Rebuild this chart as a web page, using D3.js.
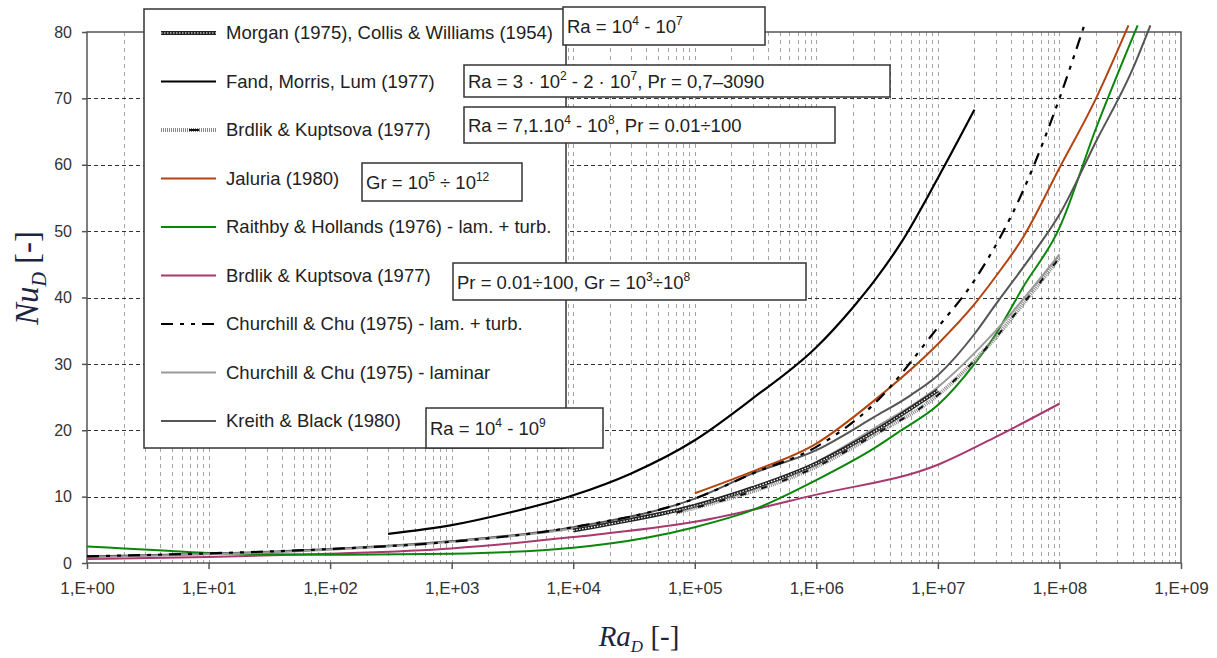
<!DOCTYPE html>
<html>
<head>
<meta charset="utf-8">
<script src="https://cdn.jsdelivr.net/npm/d3@7"></script>
<style>
  body { margin: 0; background: #fff; }
  svg { display: block; font-family: "Liberation Sans", Arial, sans-serif; }
</style>
</head>
<body>
<svg id="chart" width="1217" height="658"></svg>
<script>
// Nu_D vs Ra_D: [Ra, Nu]
var morgan = [[1e4,4.9],[3e4,6.5],[1e5,8.6],[3e5,11.3],[1e6,15],[3e6,19.8],[1e7,26]];
var fand = [[3e2,4.4],[1e3,5.7],[3e3,7.6],[1e4,10.2],[3e4,13.5],[1e5,18.5],[3e5,24.8],[1e6,32.5],[2e6,38.5],[3e6,42.5],[5e6,48.3],[1e7,58],[2e7,68.3]];
var brdlikHatch = [[7.1e4,7.6],[1e5,8.3],[3e5,10.8],[1e6,14.5],[3e6,19.3],[1e7,25.3],[2e7,30.5],[3e7,34],[5e7,39],[1e8,46]];
var jaluria = [[1e5,10.5],[3e5,13.8],[1e6,18],[3e6,24.5],[1e7,33],[2e7,39],[3e7,43.2],[5e7,49],[1e8,59.5],[2e8,70],[3.7e8,81]];
var raithby = [[1,2.5],[2,2.2],[5,1.8],[10,1.5],[100,1.25],[1e3,1.4],[1e4,2.3],[4e4,3.8],[1e5,5.4],[3e5,8],[1e6,12.5],[3e6,17.3],[5e6,20],[1e7,23.8],[2e7,30],[3e7,34.5],[5e7,41.5],[1e8,50.5],[2e8,65.5],[4.4e8,81]];
var brdlik = [[1,0.6],[10,0.9],[100,1.4],[1e3,2.2],[1e4,3.9],[1e5,6.2],[1e6,10.3],[1e7,14.8],[3e7,19],[1e8,24]];
var churchillTurb = [[1,1.0],[10,1.45],[100,2.1],[1e3,3.2],[1e4,5.4],[1e5,9.7],[3e5,13.5],[1e6,17.5],[3e6,24],[1e7,35.5],[2e7,42.6],[5e7,56],[1e8,70],[1.6e8,81]];
var churchillLam = [[1,0.85],[10,1.3],[100,2.0],[1e3,3.2],[1e4,5.2],[1e5,8.8],[1e6,15.2],[3e6,20.3],[1e7,26.5],[3e7,35],[1e8,46.5]];
var kreith = [[1,1.0],[10,1.4],[100,2.1],[1e3,3.3],[1e4,5.4],[1e5,9.7],[3e5,13.5],[1e6,17],[3e6,22],[6e6,25.3],[1e7,28.3],[2e7,34.5],[3e7,39],[6e7,46.5],[1e8,52.5],[2e8,63.5],[4e8,74.4],[5.6e8,81]];

var xTickLabels = ["1,E+00","1,E+01","1,E+02","1,E+03","1,E+04","1,E+05","1,E+06","1,E+07","1,E+08","1,E+09"];
var yTicks = [0,10,20,30,40,50,60,70,80];

var legendLabels = [
  "Morgan (1975), Collis & Williams (1954)",
  "Fand, Morris, Lum (1977)",
  "Brdlik & Kuptsova (1977)",
  "Jaluria (1980)",
  "Raithby & Hollands (1976) - lam. + turb.",
  "Brdlik & Kuptsova (1977)",
  "Churchill & Chu (1975) - lam. + turb.",
  "Churchill & Chu (1975) - laminar",
  "Kreith & Black (1980)"
];

// annotation boxes: pieces are [text, isSuperscript]
var notes = [
  {x:563, y:7,   w:202, h:38, parts:[["Ra = 10",0],["4",1],[" -  10",0],["7",1]]},
  {x:464, y:65,  w:426, h:32, parts:[["Ra = 3 · 10",0],["2",1],[" -  2 · 10",0],["7",1],[", Pr = 0,7–3090",0]]},
  {x:464, y:107, w:371, h:36, parts:[["Ra = 7,1.10",0],["4",1],[" -  10",0],["8",1],[", Pr = 0.01÷100",0]]},
  {x:362, y:163, w:160, h:38, parts:[["Gr = 10",0],["5",1],[" ÷ 10",0],["12",1]]},
  {x:453, y:263, w:353, h:37, parts:[["Pr = 0.01÷100, Gr = 10",0],["3",1],["÷10",0],["8",1]]},
  {x:426, y:408, w:177, h:40, parts:[["Ra = 10",0],["4",1],[" -   10",0],["9",1]]}
];

var chart = d3.select("#chart");
var plotLeft = 87, plotRight = 1181, plotTop = 32, plotBottom = 563;

var x = d3.scaleLog().domain([1, 1e9]).range([plotLeft, plotRight]);
var y = d3.scaleLinear().domain([0, 80]).range([plotBottom, plotTop]);

// vertical grid (light, every 1..9 of each decade)
var vgrid = [];
for (var e = 0; e < 9; e++) {
  for (var m = 1; m <= 9; m++) {
    var v = m * Math.pow(10, e);
    if (v > 1) vgrid.push(v);
  }
}
chart.append("g").selectAll("line")
  .data(vgrid)
  .enter().append("line")
  .attr("x1", function (d) { return Math.round(x(d)) + 0.5; })
  .attr("x2", function (d) { return Math.round(x(d)) + 0.5; })
  .attr("y1", plotTop).attr("y2", plotBottom)
  .attr("stroke", "#a3a3a3")
  .attr("stroke-width", 1)
  .attr("stroke-dasharray", "4,4");

// horizontal grid (dark dashed)
chart.append("g").selectAll("line")
  .data(yTicks.filter(function (d) { return d > 0 && d < 80; }))
  .enter().append("line")
  .attr("x1", plotLeft).attr("x2", plotRight)
  .attr("y1", function (d) { return Math.round(y(d)) + 0.5; })
  .attr("y2", function (d) { return Math.round(y(d)) + 0.5; })
  .attr("stroke", "#333")
  .attr("stroke-width", 1)
  .attr("stroke-dasharray", "4,3");

// plot frame
chart.append("rect")
  .attr("x", plotLeft).attr("y", plotTop)
  .attr("width", plotRight - plotLeft).attr("height", plotBottom - plotTop)
  .attr("fill", "none")
  .attr("stroke", "#555")
  .attr("stroke-width", 1.5);

// y axis
var yAxis = d3.axisLeft(y).tickValues(yTicks).tickSize(5).tickPadding(10);
var yAxisGroup = chart.append("g")
  .attr("transform", "translate(" + plotLeft + ",0)")
  .call(yAxis);
yAxisGroup.select(".domain").remove();
yAxisGroup.selectAll("line").attr("stroke", "#555").attr("stroke-width", 1.5);
yAxisGroup.selectAll("text")
  .style("font-family", "'Liberation Sans', Arial, sans-serif")
  .style("font-size", "16px")
  .attr("fill", "#333");

// x axis
var xAxis = d3.axisBottom(x)
  .tickValues(d3.range(10).map(function (i) { return Math.pow(10, i); }))
  .tickFormat(function (d, i) { return xTickLabels[i]; })
  .tickSize(6).tickPadding(13);
var xAxisGroup = chart.append("g")
  .attr("transform", "translate(0," + plotBottom + ")")
  .call(xAxis);
xAxisGroup.select(".domain").remove();
xAxisGroup.selectAll("line").attr("stroke", "#555").attr("stroke-width", 1.5);
xAxisGroup.selectAll("text")
  .style("font-family", "'Liberation Sans', Arial, sans-serif")
  .style("font-size", "17px")
  .attr("fill", "#333");

// axis titles
var yTitle = chart.append("text")
  .attr("transform", "translate(38,278) rotate(-90)")
  .attr("text-anchor", "middle")
  .style("font-family", "'Liberation Serif', 'DejaVu Serif', serif")
  .style("font-size", "33px")
  .attr("fill", "#1b2540");
yTitle.append("tspan").text("Nu").style("font-style", "italic");
yTitle.append("tspan").text("D").style("font-style", "italic").style("font-size", "20px").attr("dy", 8);
yTitle.append("tspan").text(" [-]").attr("dy", -8);

var xTitle = chart.append("text")
  .attr("x", 639).attr("y", 646)
  .attr("text-anchor", "middle")
  .style("font-family", "'Liberation Serif', 'DejaVu Serif', serif")
  .style("font-size", "29px")
  .attr("fill", "#1b2540");
xTitle.append("tspan").text("Ra").style("font-style", "italic");
xTitle.append("tspan").text("D").style("font-style", "italic").style("font-size", "17px").attr("dy", 6);
xTitle.append("tspan").text(" [-]").attr("dy", -6);

// series styling
var line = d3.line()
  .x(function (d) { return x(d[0]); })
  .y(function (d) { return y(d[1]); })
  .curve(d3.curveMonotoneX);

function drawStyled(g, d, style) {
  if (style.type === "morgan") {
    g.append("path").attr("d", d).attr("fill", "none")
      .attr("stroke", "#222").attr("stroke-width", 4);
    g.append("path").attr("d", d).attr("fill", "none")
      .attr("stroke", "#fff").attr("stroke-width", 1.2).attr("stroke-dasharray", "1.5,1.5");
  } else if (style.type === "brdlik") {
    g.append("path").attr("d", d).attr("fill", "none")
      .attr("stroke", "#888").attr("stroke-width", 4).attr("stroke-dasharray", "1,1");
    g.append("path").attr("d", d).attr("fill", "none")
      .attr("stroke", "#111").attr("stroke-width", 2).attr("stroke-dasharray", style.marks || "6,16");
  } else {
    g.append("path").attr("d", d).attr("fill", "none")
      .attr("stroke", style.color)
      .attr("stroke-width", style.width)
      .attr("stroke-dasharray", style.dash || null);
  }
}

var series = [
  {data: morgan, style: {type: "morgan"}},
  {data: fand, style: {color: "#000", width: 2.2}},
  {data: brdlikHatch, style: {type: "brdlik"}},
  {data: jaluria, style: {color: "#b4440f", width: 2}},
  {data: raithby, style: {color: "#0a870a", width: 2}},
  {data: brdlik, style: {color: "#a8386e", width: 2}},
  {data: churchillTurb, style: {color: "#000", width: 2.2, dash: "12,7,4,7,4,7"}},
  {data: churchillLam, style: {color: "#999", width: 2}},
  {data: kreith, style: {color: "#555", width: 2}}
];

var drawOrder = [5, 4, 8, 7, 0, 2, 3, 6, 1];
drawOrder.forEach(function (i) {
  var g = chart.append("g");
  drawStyled(g, line(series[i].data), series[i].style);
});

// legend
var legend = chart.append("g");
legend.append("rect")
  .attr("x", 144).attr("y", 9)
  .attr("width", 422).attr("height", 439)
  .attr("fill", "#fff")
  .attr("stroke", "#333")
  .attr("stroke-width", 1.5);

legendLabels.forEach(function (label, i) {
  var ly = 33 + i * 48.5;
  var g = legend.append("g");
  var st = series[i].style;
  if (st.type === "brdlik") st = {type: "brdlik", marks: "0,28,10,100"};
  drawStyled(g, "M161," + ly + "L216," + ly, st);
  g.append("text")
    .attr("x", 226).attr("y", ly + 6)
    .style("font-size", "18.5px")
    .attr("fill", "#222")
    .text(label);
});

// annotation boxes
notes.forEach(function (n) {
  var g = chart.append("g");
  g.append("rect")
    .attr("x", n.x).attr("y", n.y)
    .attr("width", n.w).attr("height", n.h)
    .attr("fill", "#fff")
    .attr("stroke", "#333")
    .attr("stroke-width", 1.5);
  var t = g.append("text")
    .attr("x", n.x + 4)
    .attr("y", n.y + n.h / 2 + 7)
    .style("font-size", "18.5px")
    .attr("fill", "#222");
  var prevSup = false;
  n.parts.forEach(function (p) {
    if (p[1]) {
      t.append("tspan").text(p[0]).style("font-size", "12px").attr("dy", -8);
      prevSup = true;
    } else {
      var ts = t.append("tspan").text(p[0]);
      if (prevSup) ts.attr("dy", 8);
      prevSup = false;
    }
  });
});
</script>
</body>
</html>
